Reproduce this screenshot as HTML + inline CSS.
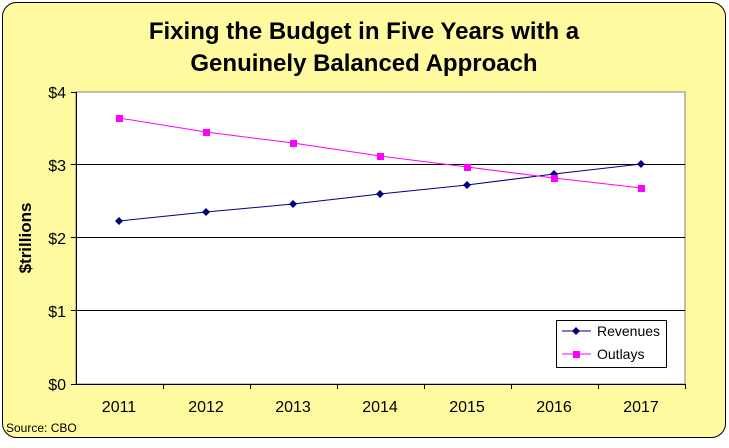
<!DOCTYPE html><html><head><style>body{margin:0;background:#fff}</style></head><body>
<svg width="729" height="443" xmlns="http://www.w3.org/2000/svg" font-family="Liberation Sans, Arial, sans-serif">
<rect x="2.5" y="2.5" width="723" height="435" rx="14" fill="#fffaa0" stroke="#000"/>
<text x="364" y="39" text-anchor="middle" font-size="24" font-weight="bold">Fixing the Budget in Five Years with a</text>
<text x="364" y="71" text-anchor="middle" font-size="24" font-weight="bold">Genuinely Balanced Approach</text>
<rect x="76" y="92" width="609" height="292" fill="#fff" stroke="#808080"/>
<g stroke="#000" stroke-width="1">
<line x1="76" y1="164.5" x2="685" y2="164.5"/><line x1="76" y1="237.5" x2="685" y2="237.5"/><line x1="76" y1="310.5" x2="685" y2="310.5"/>
<line x1="76.5" y1="92" x2="76.5" y2="384"/><line x1="76" y1="384.5" x2="685" y2="384.5"/>
<line x1="71" y1="92.5" x2="76" y2="92.5"/><line x1="71" y1="164.5" x2="76" y2="164.5"/><line x1="71" y1="237.5" x2="76" y2="237.5"/><line x1="71" y1="310.5" x2="76" y2="310.5"/><line x1="71" y1="384.5" x2="76" y2="384.5"/>
<line x1="163.5" y1="384" x2="163.5" y2="389"/><line x1="250.5" y1="384" x2="250.5" y2="389"/><line x1="337.5" y1="384" x2="337.5" y2="389"/><line x1="424.5" y1="384" x2="424.5" y2="389"/><line x1="511.5" y1="384" x2="511.5" y2="389"/><line x1="598.5" y1="384" x2="598.5" y2="389"/><line x1="685.5" y1="384" x2="685.5" y2="389"/>
</g>
<g font-size="16" text-anchor="end"><text x="66" y="98">$4</text><text x="66" y="171">$3</text><text x="66" y="244">$2</text><text x="66" y="317">$1</text><text x="66" y="390">$0</text></g>
<g font-size="16" text-anchor="middle"><text x="119" y="412">2011</text><text x="206" y="412">2012</text><text x="293" y="412">2013</text><text x="380" y="412">2014</text><text x="467" y="412">2015</text><text x="554" y="412">2016</text><text x="641" y="412">2017</text></g>
<text transform="translate(31,238) rotate(-90)" text-anchor="middle" font-size="17" font-weight="bold">$trillions</text>
<text x="6" y="432" font-size="12">Source: CBO</text>
<polyline fill="none" stroke="#000080" points="119,221 206,212 293,204 380,194 467,185 554,174 641,164"/>
<g fill="#000080"><path d="M119,217l4,4-4,4-4-4z"/><path d="M206,208l4,4-4,4-4-4z"/><path d="M293,200l4,4-4,4-4-4z"/><path d="M380,190l4,4-4,4-4-4z"/><path d="M467,181l4,4-4,4-4-4z"/><path d="M554,170l4,4-4,4-4-4z"/><path d="M641,160l4,4-4,4-4-4z"/></g>
<polyline fill="none" stroke="#ff00ff" points="119,118 206,132 293,143 380,156 467,167 554,178 641,188"/>
<g fill="#ff00ff"><rect x="116" y="115" width="7" height="7"/><rect x="203" y="129" width="7" height="7"/><rect x="290" y="140" width="7" height="7"/><rect x="377" y="153" width="7" height="7"/><rect x="464" y="164" width="7" height="7"/><rect x="551" y="175" width="7" height="7"/><rect x="638" y="185" width="7" height="7"/></g>
<rect x="556.5" y="320.5" width="110" height="47" fill="#fff" stroke="#000"/>
<line x1="562" y1="331" x2="591" y2="331" stroke="#000080"/><path d="M576,327l4,4-4,4-4-4z" fill="#000080"/>
<line x1="562" y1="354" x2="591" y2="354" stroke="#ff00ff"/><rect x="573" y="351" width="7" height="7" fill="#ff00ff"/>
<text x="597" y="336" font-size="14">Revenues</text><text x="597" y="359" font-size="14">Outlays</text>
</svg></body></html>
